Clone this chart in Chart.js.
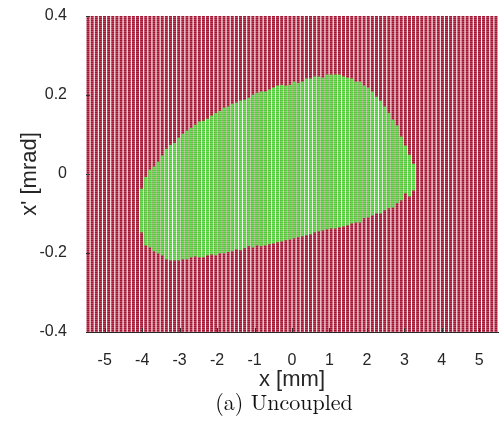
<!DOCTYPE html>
<html>
<head>
<meta charset="utf-8">
<script src="https://cdn.jsdelivr.net/npm/chart.js@4/dist/chart.umd.min.js"></script>
<style>
  html, body { margin: 0; padding: 0; background: #fff; }
  #wrap { position: relative; width: 500px; height: 427px; overflow: hidden; }
  #c { position: absolute; left: 0; top: 0; }
  #cap {
    position: absolute; top: 385px; left: 284px; transform: translateX(-50%);
    font-family: "Latin Modern Roman", "CMU Serif", "Liberation Serif", serif;
    font-size: 22px; color: #111; white-space: nowrap;
  }
</style>
</head>
<body>
<div id="wrap">
  <canvas id="c" width="500" height="395"></canvas>
  <div id="cap">(a) Uncoupled</div>
</div>
<script>
// initial-condition grid columns (x in mm), each scanned over the full x' window
const xCols = [
  -5.445, -5.335, -5.225, -5.115, -5.005, -4.895, -4.785, -4.675, -4.565, -4.455,
  -4.345, -4.235, -4.125, -4.015, -3.905, -3.795, -3.685, -3.575, -3.465, -3.355,
  -3.245, -3.135, -3.025, -2.915, -2.805, -2.695, -2.585, -2.475, -2.365, -2.255,
  -2.145, -2.035, -1.925, -1.815, -1.705, -1.595, -1.485, -1.375, -1.265, -1.155,
  -1.045, -0.935, -0.825, -0.715, -0.605, -0.495, -0.385, -0.275, -0.165, -0.055,
  0.055, 0.165, 0.275, 0.385, 0.495, 0.605, 0.715, 0.825, 0.935, 1.045,
  1.155, 1.265, 1.375, 1.485, 1.595, 1.705, 1.815, 1.925, 2.035, 2.145,
  2.255, 2.365, 2.475, 2.585, 2.695, 2.805, 2.915, 3.025, 3.135, 3.245,
  3.355, 3.465, 3.575, 3.685, 3.795, 3.905, 4.015, 4.125, 4.235, 4.345,
  4.455, 4.565, 4.675, 4.785, 4.895, 5.005, 5.115, 5.225, 5.335, 5.445
];
const scanMin = -0.4;
const scanMax = 0.4;

// surviving particles: per column, lowest and highest x' (mrad)
const greenX = [
  -4.015, -3.905, -3.795, -3.685, -3.575, -3.465, -3.355, -3.245, -3.135, -3.025,
  -2.915, -2.805, -2.695, -2.585, -2.475, -2.365, -2.255, -2.145, -2.035, -1.925,
  -1.815, -1.705, -1.595, -1.485, -1.375, -1.265, -1.155, -1.045, -0.935, -0.825,
  -0.715, -0.605, -0.495, -0.385, -0.275, -0.165, -0.055, 0.055, 0.165, 0.275,
  0.385, 0.495, 0.605, 0.715, 0.825, 0.935, 1.045, 1.155, 1.265, 1.375,
  1.485, 1.595, 1.705, 1.815, 1.925, 2.035, 2.145, 2.255, 2.365, 2.475,
  2.585, 2.695, 2.805, 2.915, 3.025, 3.135, 3.245
];
const greenTop = [
  -0.038, -0.008, 0.010, 0.018, 0.030, 0.046, 0.063, 0.073, 0.078, 0.091,
  0.101, 0.109, 0.116, 0.124, 0.132, 0.134, 0.139, 0.147, 0.154, 0.159,
  0.167, 0.170, 0.177, 0.180, 0.185, 0.187, 0.192, 0.200, 0.205, 0.208,
  0.208, 0.213, 0.218, 0.223, 0.225, 0.223, 0.225, 0.233, 0.230, 0.233,
  0.241, 0.241, 0.246, 0.246, 0.243, 0.251, 0.251, 0.251, 0.251, 0.246,
  0.243, 0.241, 0.233, 0.233, 0.223, 0.218, 0.208, 0.195, 0.185, 0.170,
  0.154, 0.137, 0.122, 0.094, 0.071, 0.048, 0.025
];
const greenBottom = [
  -0.147, -0.180, -0.185, -0.195, -0.200, -0.205, -0.215, -0.218, -0.218, -0.218,
  -0.215, -0.215, -0.210, -0.208, -0.210, -0.210, -0.205, -0.203, -0.205, -0.200,
  -0.200, -0.197, -0.195, -0.190, -0.192, -0.187, -0.182, -0.185, -0.180, -0.182,
  -0.180, -0.177, -0.175, -0.172, -0.170, -0.167, -0.165, -0.162, -0.159, -0.157,
  -0.154, -0.152, -0.147, -0.144, -0.142, -0.139, -0.137, -0.137, -0.134, -0.132,
  -0.129, -0.124, -0.122, -0.122, -0.111, -0.109, -0.104, -0.099, -0.099, -0.091,
  -0.086, -0.084, -0.073, -0.066, -0.048, -0.056, -0.041
];

const xTicks = [-5, -4, -3, -2, -1, 0, 1, 2, 3, 4, 5];
const yTicks = [-0.4, -0.2, 0, 0.2, 0.4];
const yTickLabels = ['-0.4', '-0.2', '0', '0.2', '0.4'];

// dotted look of the densely packed markers
function dots(c1, c2) {
  const p = document.createElement('canvas');
  p.width = 1; p.height = 2;
  const g = p.getContext('2d');
  g.fillStyle = c1; g.fillRect(0, 0, 1, 1);
  g.fillStyle = c2; g.fillRect(0, 1, 1, 1);
  return g.createPattern(p, 'repeat');
}

// small inward ticks like the original axes
const inTicks = {
  id: 'inTicks',
  afterDatasetsDraw(chart) {
    const { ctx, chartArea: a, scales: { x, y } } = chart;
    ctx.save();
    ctx.strokeStyle = '#333';
    ctx.lineWidth = 1;
    ctx.beginPath();
    xTicks.forEach(v => {
      const px = Math.round(x.getPixelForValue(v)) + 0.5;
      ctx.moveTo(px, a.bottom); ctx.lineTo(px, a.bottom - 4);
    });
    yTicks.forEach(v => {
      const py = Math.round(y.getPixelForValue(v)) + 0.5;
      ctx.moveTo(a.left, py); ctx.lineTo(a.left + 4, py);
    });
    ctx.stroke();
    ctx.restore();
  }
};

const tickFont = { family: '"Liberation Sans", Arial, Helvetica, sans-serif', size: 16 };
const titleFont = { family: '"Liberation Sans", Arial, Helvetica, sans-serif', size: 22 };

new Chart(document.getElementById('c'), {
  type: 'bar',
  data: {
    datasets: [
      {
        label: 'survived',
        data: greenX.map((x, i) => ({ x, y: [greenBottom[i], greenTop[i]] })),
        backgroundColor: dots('#4ad335', '#78dc66'),
        barThickness: 2.4,
        grouped: false,
        order: 0
      },
      {
        label: 'lost',
        data: xCols.map(x => ({ x, y: [scanMin, scanMax] })),
        backgroundColor: dots('#a2142f', '#bd4660'),
        barThickness: 2.4,
        grouped: false,
        order: 1
      }
    ]
  },
  options: {
    responsive: false,
    animation: false,
    events: [],
    layout: { padding: { top: 16, right: 2, left: 0, bottom: 0 } },
    plugins: { legend: { display: false }, tooltip: { enabled: false } },
    scales: {
      x: {
        type: 'linear',
        min: -5.5, max: 5.5,
        offset: false,
        afterBuildTicks: s => { s.ticks = xTicks.map(v => ({ value: v })); },
        afterFit: s => { s.height = 63; s.paddingLeft = 0; s.paddingRight = 0; },
        grid: { display: false },
        border: { display: true, color: '#262626', width: 1, z: 1 },
        ticks: { color: '#262626', font: tickFont, padding: 11, maxRotation: 0,
                 callback: v => String(v) },
        title: { display: true, text: 'x [mm]', color: '#262626', font: titleFont,
                 padding: { top: 0, bottom: 2 } }
      },
      y: {
        min: -0.4, max: 0.4,
        afterBuildTicks: s => { s.ticks = yTicks.map(v => ({ value: v })); },
        afterFit: s => { s.width = 86; s.paddingTop = 0; s.paddingBottom = 0; },
        grid: { display: false },
        border: { display: false },
        ticks: { color: '#262626', font: tickFont, padding: 11,
                 callback: (v, i) => yTickLabels[i] },
        title: { display: true, text: "x' [mrad]", color: '#262626', font: titleFont,
                 padding: { top: 17, bottom: 0 } }
      }
    }
  },
  plugins: [inTicks]
});
</script>
</body>
</html>
